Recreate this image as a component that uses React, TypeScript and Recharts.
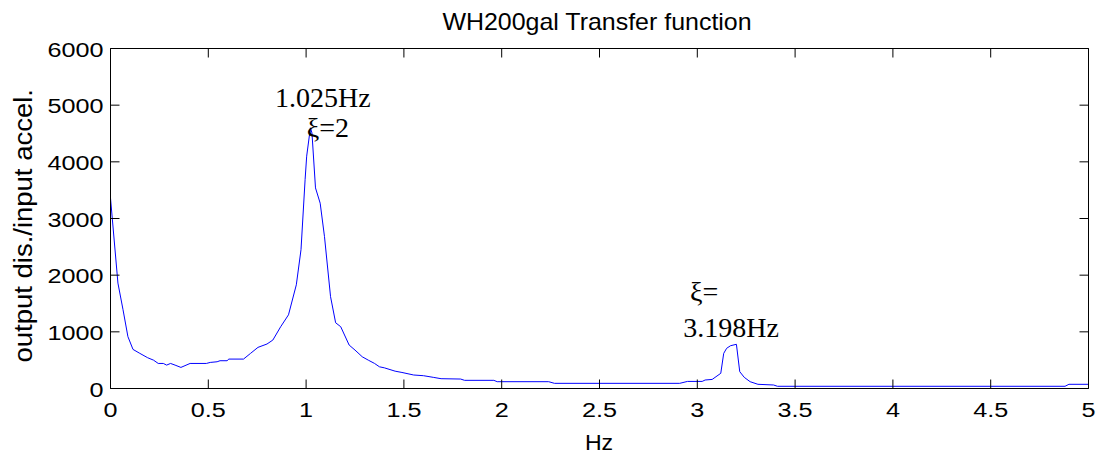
import React from 'react';
import { LineChart, Line, XAxis, YAxis, ReferenceDot, ReferenceLine } from 'recharts';

const freqHz = [
  0.0, 0.038, 0.064, 0.089, 0.115, 0.15, 0.19, 0.22, 0.244, 0.27, 0.287, 0.307, 0.33, 0.36,
  0.407, 0.49, 0.51, 0.545, 0.56, 0.596, 0.605, 0.68, 0.716, 0.754, 0.8, 0.83, 0.87, 0.91,
  0.95, 0.974, 0.995, 1.003, 1.022, 1.03, 1.048, 1.072, 1.094, 1.125, 1.151, 1.177, 1.22,
  1.25, 1.287, 1.318, 1.35, 1.375, 1.4, 1.455, 1.49, 1.55, 1.6, 1.65, 1.69, 1.79, 1.81, 1.96,
  1.977, 2.24, 2.27, 2.91, 2.95, 3.025, 3.04, 3.076, 3.12, 3.135, 3.15, 3.17, 3.2, 3.217,
  3.24, 3.27, 3.31, 3.39, 3.41, 4.88, 4.9, 5.0,
];
const response = [
  3360, 1860, 1390, 915, 690, 620, 543, 500, 442, 442, 413, 442, 413, 372,
  442, 442, 460, 472, 490, 490, 519, 519, 620, 726, 785, 855, 1090, 1300,
  1830, 2450, 3690, 4100, 4600, 4510, 3540, 3270, 2680, 1620, 1160, 1090, 767,
  678, 560, 500, 442, 383, 365, 306, 283, 238, 226, 197, 173, 167, 144, 144,
  120, 120, 91, 91, 125, 125, 150, 160, 268, 620, 709, 755, 780, 297,
  197, 120, 74, 62, 39, 39, 74, 74,
];
const xTicks = [0, 0.5, 1, 1.5, 2, 2.5, 3, 3.5, 4, 4.5, 5];
const yTicks = [0, 1000, 2000, 3000, 4000, 5000, 6000];
const titleText = 'WH200gal Transfer function';
const xLabelText = 'Hz';
const yLabelText = 'output dis./input accel.';
const annotationFreq = [0.841, 1.003, 2.963, 2.928];
const annotationValue = [4967, 4443, 1544, 914];
const annotationText = ['1.025Hz', 'ξ=2', 'ξ=', '3.198Hz'];

const data = freqHz.map((f, i) => ({ f, v: response[i] }));

const PLOT_W = 978;
const PLOT_H = 340;
const TICK = 9;
const SANS = '"Liberation Sans", Arial, Helvetica, sans-serif';
const SERIF = '"Liberation Serif", "Times New Roman", serif';

const XTick = (props: any) => {
  const { x, y, payload } = props;
  return (
    <g>
      <line x1={x} y1={y} x2={x} y2={y - TICK} stroke="#000" strokeWidth={1} />
      <line x1={x} y1={y - PLOT_H} x2={x} y2={y - PLOT_H + TICK} stroke="#000" strokeWidth={1} />
      <text
        transform={`translate(${x},${y + 28}) scale(1.2,1)`}
        textAnchor="middle"
        fontFamily={SANS}
        fontSize={21}
        fill="#000"
      >
        {String(payload.value)}
      </text>
    </g>
  );
};

const YTick = (props: any) => {
  const { x, y, payload } = props;
  return (
    <g>
      <line x1={x} y1={y} x2={x + TICK} y2={y} stroke="#000" strokeWidth={1} />
      <line x1={x + PLOT_W} y1={y} x2={x + PLOT_W - TICK} y2={y} stroke="#000" strokeWidth={1} />
      <text
        transform={`translate(${x - 7},${y + 8}) scale(1.2,1)`}
        textAnchor="end"
        fontFamily={SANS}
        fontSize={21}
        fill="#000"
      >
        {String(payload.value)}
      </text>
    </g>
  );
};

const makeLabel = (txt: string) => (props: any) => {
  const vb = props.viewBox || {};
  return (
    <text x={vb.x} y={vb.y} textAnchor="start" fontFamily={SERIF} fontSize={28} fill="#000">
      {txt}
    </text>
  );
};

export default function App() {
  return (
    <div style={{ position: 'absolute', left: 0, top: 0, width: 1104, height: 457, background: '#fff' }}>
      <LineChart
        width={1104}
        height={457}
        data={data}
        margin={{ top: 48.5, right: 15.5, bottom: 0, left: 0 }}
      >
        <XAxis
          dataKey="f"
          type="number"
          domain={[0, 5]}
          ticks={xTicks}
          interval={0}
          height={68.5}
          tickLine={false}
          tickSize={0}
          tickMargin={0}
          axisLine={{ stroke: '#000', strokeWidth: 1 }}
          tick={<XTick />}
          allowDataOverflow
        />
        <YAxis
          type="number"
          domain={[0, 6000]}
          ticks={yTicks}
          interval={0}
          width={110.5}
          tickLine={false}
          tickSize={0}
          tickMargin={0}
          axisLine={{ stroke: '#000', strokeWidth: 1 }}
          tick={<YTick />}
          allowDataOverflow
        />
        <ReferenceLine y={6000} stroke="#000" strokeWidth={1} />
        <ReferenceLine x={5} stroke="#000" strokeWidth={1} />
        <Line
          type="linear"
          dataKey="v"
          stroke="#0000ff"
          strokeWidth={1}
          dot={false}
          activeDot={false}
          isAnimationActive={false}
        />
        {annotationText.map((t, i) => (
          <ReferenceDot
            key={t}
            x={annotationFreq[i]}
            y={annotationValue[i]}
            r={0}
            fill="none"
            stroke="none"
            label={makeLabel(t)}
          />
        ))}
      </LineChart>
      <svg
        width={1104}
        height={457}
        style={{ position: 'absolute', left: 0, top: 0, pointerEvents: 'none' }}
      >
        <text
          transform="translate(597,30) scale(1.04,1)"
          textAnchor="middle"
          fontFamily={SANS}
          fontSize={24}
          fill="#000"
        >
          {titleText}
        </text>
        <text
          transform="translate(599,450) scale(1.05,1)"
          textAnchor="middle"
          fontFamily={SANS}
          fontSize={22}
          fill="#000"
        >
          {xLabelText}
        </text>
        <text
          transform="translate(31.7,225.8) rotate(-90) scale(1.1,1)"
          textAnchor="middle"
          fontFamily={SANS}
          fontSize={25}
          fill="#000"
        >
          {yLabelText}
        </text>
      </svg>
    </div>
  );
}
